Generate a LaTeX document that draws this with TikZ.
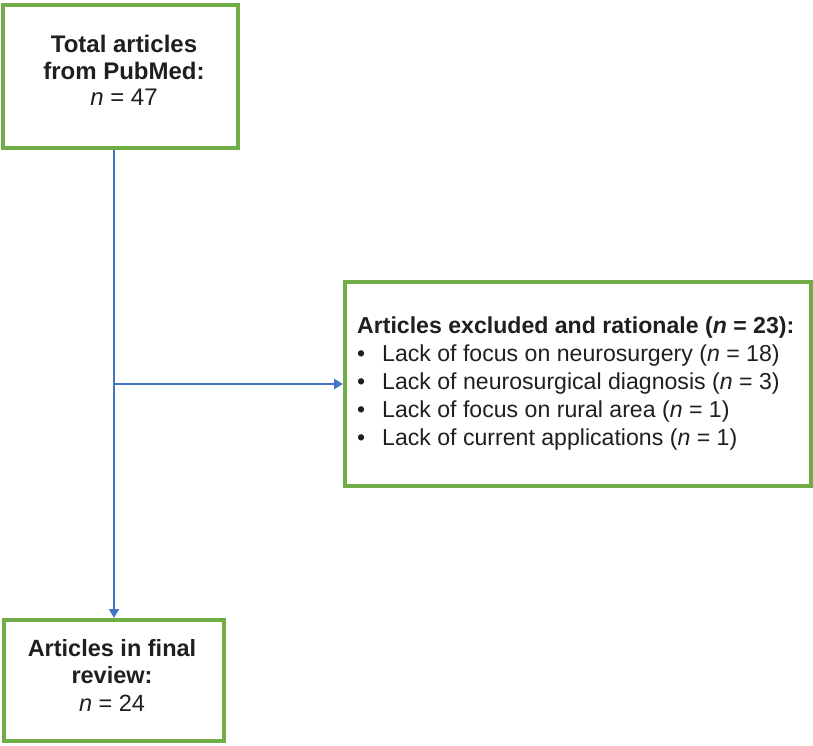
\documentclass[tikz,border=0pt]{standalone}
\usepackage{fontspec}
\setmainfont{Liberation Sans}
\usetikzlibrary{arrows.meta}
\definecolor{boxgreen}{HTML}{70AD47}
\definecolor{lineblue}{HTML}{4472C4}
\tikzset{
  box/.style={draw=boxgreen, line width=4pt, rectangle, inner sep=0pt, fill=white},
  conn/.style={draw=lineblue, line width=1.5pt, -{Triangle[length=9pt,width=10pt]}},
  txt/.style={inner sep=0pt, text=black!88}
}
\begin{document}
\begin{tikzpicture}[x=1pt,y=-1pt]
\useasboundingbox (0,0) rectangle (813,745);
\node[box, minimum width=235pt, minimum height=143pt] (total) at (120.5,76.5) {};
\node[txt, align=center, font=\fontsize{24}{26.5}\selectfont] (totaltxt) at (124,70.5)
  {\textbf{Total articles}\\\textbf{from PubMed:}\\\textit{n} = 47};
\node[box, minimum width=466pt, minimum height=204pt] (excl) at (578,384) {};
\node[txt, align=left, font=\fontsize{23.1}{28}\selectfont, anchor=west] (excltxt) at (357,384)
  {\textbf{Articles excluded and rationale (\textit{n} = 23):}\\
   \makebox[25pt][l]{•}Lack of focus on neurosurgery (\textit{n} = 18)\\
   \makebox[25pt][l]{•}Lack of neurosurgical diagnosis (\textit{n} = 3)\\
   \makebox[25pt][l]{•}Lack of focus on rural area (\textit{n} = 1)\\
   \makebox[25pt][l]{•}Lack of current applications (\textit{n} = 1)};
\node[box, minimum width=220pt, minimum height=121pt] (final) at (114,680.5) {};
\node[txt, align=center, font=\fontsize{23.5}{27.5}\selectfont] (finaltxt) at (112,675)
  {\textbf{Articles in final}\\\textbf{review:}\\\textit{n} = 24};
\draw[conn] (total.south -| final.north) -- (final.north);
\draw[conn, line width=2.5pt] (excl.west -| final.north) -- (excl.west);
\end{tikzpicture}
\end{document}
